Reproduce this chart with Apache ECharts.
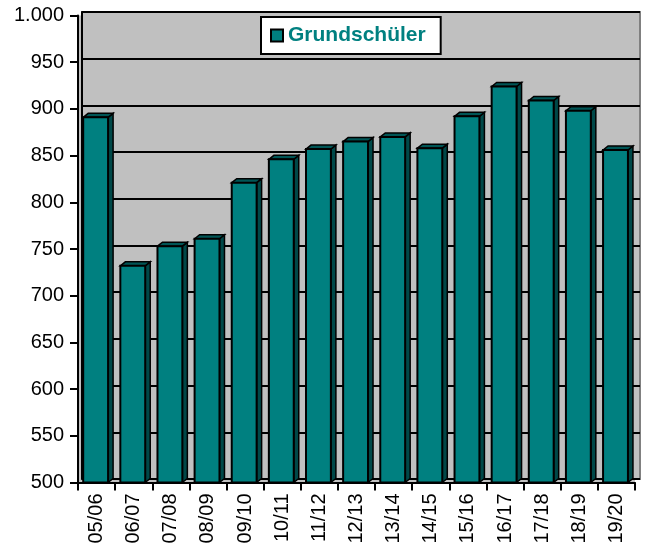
<!DOCTYPE html>
<html>
<head>
<meta charset="utf-8">
<script src="https://cdn.jsdelivr.net/npm/echarts@6/dist/echarts.min.js"></script>
<style>html,body{margin:0;padding:0;background:#fff;}#c{width:645px;height:549px;}</style>
</head>
<body>
<div id="c"></div>
<script>
var categories = ['05/06','06/07','07/08','08/09','09/10','10/11','11/12','12/13','13/14','14/15','15/16','16/17','17/18','18/19','19/20'];
var seriesName = 'Grundschüler';
var values = [891, 732, 753, 761, 821, 846, 857, 865, 870, 858, 892, 924, 909, 898, 856];
var yMin = 500, yMax = 1000, yStep = 50;

function fmt(v){
  if (v >= 1000) return Math.floor(v/1000) + '.' + String(v % 1000).padStart(3,'0');
  return String(v);
}

var chart = echarts.init(document.getElementById('c'), null, {renderer:'canvas'});
var font = 'Liberation Sans, Arial, sans-serif';

chart.setOption({
  animation: false,
  grid: [
    {left: 82, right: 5, top: 12, bottom: 70, show: true, backgroundColor: '#c0c0c0', borderColor: '#808080', borderWidth: 2, z: 0},
    {left: 78, right: 10, top: 15.5, bottom: 66.5, show: true, backgroundColor: '#c0c0c0', borderWidth: 0, z: -1}
  ],
  legend: {
    data: [seriesName], left: 261, top: 17, selectedMode: false,
    backgroundColor: '#ffffff', borderColor: '#000', borderWidth: 2,
    padding: [8, 15, 8, 9], itemWidth: 12, itemHeight: 12, itemGap: 8, icon: 'rect',
    textStyle: {color: '#008080', fontWeight: 'bold', fontSize: 21, fontFamily: font, padding:[0,0,0,0]}
  },
  xAxis: [
    {type: 'category', gridIndex: 0, data: categories, show: false},
    {type: 'category', gridIndex: 1, data: categories,
     axisLine: {lineStyle: {color: '#000', width: 2}},
     axisTick: {show: true, length: 8, lineStyle: {color: '#000', width: 2}},
     axisLabel: {rotate: 90, margin: 11, color: '#000', fontSize: 20, fontFamily: font}}
  ],
  yAxis: [
    {type: 'value', gridIndex: 0, min: yMin, max: yMax, interval: yStep,
     axisLine: {show: true, lineStyle: {color: '#000', width: 2}},
     axisTick: {show: false}, axisLabel: {show: false},
     splitLine: {show: true, lineStyle: {color: '#000', width: 2}}},
    {type: 'value', gridIndex: 1, min: yMin, max: yMax, interval: yStep,
     axisLine: {show: true, lineStyle: {color: '#000', width: 2}},
     axisTick: {show: true, length: 8, lineStyle: {color: '#000', width: 2}},
     splitLine: {show: false},
     axisLabel: {margin: 14, color: '#000', fontSize: 20, fontFamily: font, formatter: fmt}}
  ],
  series: [{
    name: seriesName,
    type: 'custom',
    xAxisIndex: 1, yAxisIndex: 1,
    itemStyle: {color: '#008080', borderColor: '#000', borderWidth: 1.5},
    encode: {x: 0, y: 1},
    data: values.map(function(v, i){ return [i, v]; }),
    clip: false,
    renderItem: function(params, api){
      var idx = api.value(0), val = api.value(1);
      var p = api.coord([idx, val]);
      var b = api.coord([idx, yMin]);
      var bw = api.size([1, 0])[0];
      var w = bw * 0.67, dx = bw * 0.135, dy = 4;
      var x0 = p[0] - bw / 2 + bw * 0.14;
      var ty = p[1], by = b[1];
      return {type: 'group', children: [
        {type: 'polygon', shape: {points: [[x0 + w, ty], [x0 + w + dx, ty - dy], [x0 + w + dx, by - dy], [x0 + w, by]]},
         style: {fill: '#004848', stroke: '#000', lineWidth: 1.5}},
        {type: 'polygon', shape: {points: [[x0, ty], [x0 + dx, ty - dy], [x0 + w + dx, ty - dy], [x0 + w, ty]]},
         style: {fill: '#005656', stroke: '#000', lineWidth: 1.5}},
        {type: 'rect', shape: {x: x0, y: ty, width: w, height: by - ty},
         style: {fill: '#008080', stroke: '#000', lineWidth: 2}}
      ]};
    }
  }]
});
</script>
</body>
</html>
